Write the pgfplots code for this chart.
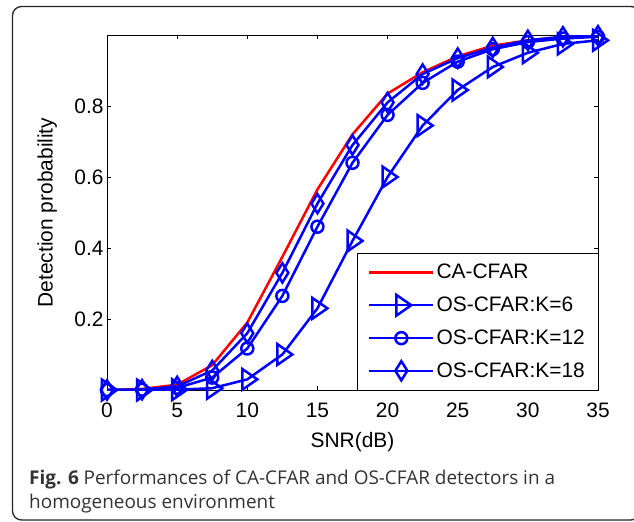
\documentclass[border=0pt]{standalone}
\usepackage{pgfplots}
\pgfplotsset{compat=1.18}
\usepackage{fontspec}
\setmainfont{Liberation Sans}
\newfontfamily\capfont{Open Sans}
\definecolor{capgray}{RGB}{51,51,51}
\definecolor{mblue}{RGB}{0,0,255}
\definecolor{mred}{RGB}{255,0,0}
\begin{document}
\begin{tikzpicture}
\path[use as bounding box] (0bp,0bp) rectangle (634bp,-522bp);
\draw[line width=1.3bp, color=black!85, rounded corners=9bp] (12.5bp,-6.5bp) rectangle (640bp,-520bp);
\begin{axis}[
  at={(107bp,-390bp)}, anchor=south west,
  width=491bp, height=355bp, scale only axis,
  xmin=0, xmax=35, ymin=0, ymax=1,
  xtick={0,5,...,35}, ytick={0.2,0.4,0.6,0.8},
  tick align=inside, major tick length=4bp,
  tick style={black, line width=0.6bp},
  axis line style={line width=0.8bp},
  /pgf/number format/assume math mode=true,
  ticklabel style={font=\fontsize{21}{25}\selectfont},
  xticklabel style={anchor=center, yshift=-20.5bp},
  yticklabel style={/pgf/number format/.cd, fixed, precision=1},
  label style={font=\fontsize{21}{25}\selectfont},
  xlabel={SNR(dB)}, ylabel={Detection probability},
  xlabel style={at={(axis description cs:0.5,-0.147)}, anchor=center},
  ylabel style={at={(axis description cs:-0.122,0.5)}, anchor=center},
  legend cell align=left,
  legend style={at={(1,0)}, anchor=south east, draw=black,
    font=\fontsize{21}{25}\selectfont, row sep=12.5bp, inner xsep=11bp, inner ysep=9bp},
  legend image code/.code={
    \draw[#1, line width=2.5bp, mark=none] (0bp,0bp) -- (64bp,0bp);
    \draw[#1, line width=2.5bp, only marks] plot coordinates {(32bp,0bp)};
  },
]
\addplot[color=mred, line width=2.5bp, mark=none] coordinates {
(0,0) (2.5,0.003) (5,0.015) (7.5,0.07) (10,0.19) (12.5,0.375) (15,0.565) (17.5,0.72) (20,0.835) (22.5,0.895) (25,0.94) (27.5,0.97) (30,0.985) (32.5,0.995) (35,0.998)};
\addlegendentry{CA-CFAR}
\addplot[color=mblue, line width=2.5bp, mark=triangle, mark size=10bp, mark options={solid, rotate=-90, xscale=1.2}] coordinates {
(0,0) (2.5,0) (5,0.001) (7.5,0.005) (10,0.03) (12.5,0.1) (15,0.23) (17.5,0.42) (20,0.6) (22.5,0.745) (25,0.845) (27.5,0.91) (30,0.95) (32.5,0.975) (35,0.985)};
\addlegendentry{OS-CFAR:K=6}
\addplot[color=mblue, line width=2.5bp, mark=o, mark size=6bp, mark options={solid}] coordinates {
(0,0) (2.5,0.001) (5,0.006) (7.5,0.035) (10,0.117) (12.5,0.265) (15,0.46) (17.5,0.64) (20,0.775) (22.5,0.865) (25,0.925) (27.5,0.96) (30,0.98) (32.5,0.99) (35,0.995)};
\addlegendentry{OS-CFAR:K=12}
\addplot[color=mblue, line width=2.5bp, mark=diamond, mark size=8bp, mark options={solid, yscale=1.2}] coordinates {
(0,0) (2.5,0.001) (5,0.01) (7.5,0.055) (10,0.16) (12.5,0.33) (15,0.525) (17.5,0.69) (20,0.81) (22.5,0.89) (25,0.935) (27.5,0.965) (30,0.985) (32.5,0.995) (35,0.998)};
\addlegendentry{OS-CFAR:K=18}
\end{axis}
\node[anchor=base west, inner sep=0pt, text=capgray, font=\capfont\fontsize{19}{24}\selectfont] at (29bp,-484bp) {\textbf{Fig. 6} Performances of CA-CFAR and OS-CFAR detectors in a};
\node[anchor=base west, inner sep=0pt, text=capgray, font=\capfont\fontsize{19}{24}\selectfont] at (29bp,-508bp) {homogeneous environment};
\end{tikzpicture}
\end{document}
